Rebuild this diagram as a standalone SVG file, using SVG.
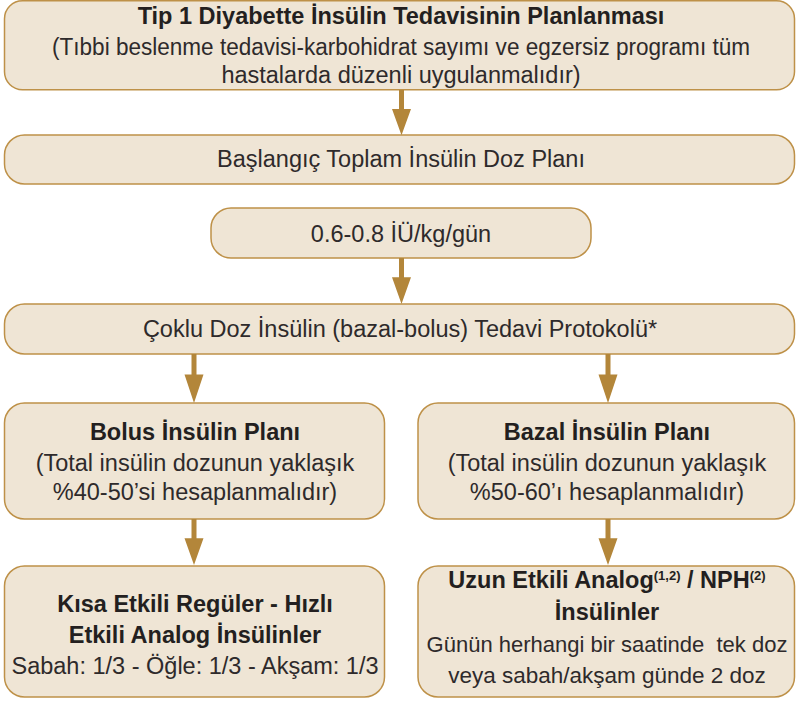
<svg xmlns="http://www.w3.org/2000/svg" width="796" height="703" viewBox="0 0 796 703">
  <style>
    .box { fill: #EFE5D5; stroke: #BE9148; stroke-width: 1.5; }
    text { font-family: "Liberation Sans", Arial, sans-serif; fill: #2E2A2B; text-anchor: middle; font-size: 23.5px; }
    .b { font-weight: bold; fill: #231F20; }
    .sup { font-size: 13px; font-weight: bold; }
    .pre { white-space: pre; }
    .s22 { font-size: 22px; }
    .s225 { font-size: 22.5px; }
    .arrow { fill: #B3863A; }
  </style>
  <defs>
    <path id="arw" d="M-2.5,0 H2.5 V18 H9.5 L0,43 L-9.5,18 H-2.5 Z"/>
  </defs>

  <g id="n-plan">
    <rect class="box" x="4.5" y="0.75" width="790" height="89" rx="18"/>
    <text class="b" x="401" y="24">Tip 1 Diyabette İnsülin Tedavisinin Planlanması</text>
    <text x="401" y="55" textLength="698" lengthAdjust="spacingAndGlyphs">(Tıbbi beslenme tedavisi-karbohidrat sayımı ve egzersiz programı tüm</text>
    <text x="401" y="83">hastalarda düzenli uygulanmalıdır)</text>
  </g>

  <g id="n-baslangic">
    <rect class="box" x="4.5" y="135" width="790" height="49" rx="20"/>
    <text x="401" y="167">Başlangıç Toplam İnsülin Doz Planı</text>
  </g>

  <g id="n-doz">
    <rect class="box" x="211" y="208" width="380" height="50" rx="20"/>
    <text x="401" y="242">0.6-0.8 İÜ/kg/gün</text>
  </g>

  <g id="n-protokol">
    <rect class="box" x="4.5" y="304" width="790" height="50" rx="20"/>
    <text x="400" y="337">Çoklu Doz İnsülin (bazal-bolus) Tedavi Protokolü*</text>
  </g>

  <g id="n-bolus">
    <rect class="box" x="4.5" y="403" width="380" height="116" rx="20"/>
    <text class="b" x="195" y="440">Bolus İnsülin Planı</text>
    <text x="195" y="471">(Total insülin dozunun yaklaşık</text>
    <text x="195" y="500">%40-50’si hesaplanmalıdır)</text>
  </g>

  <g id="n-bazal">
    <rect class="box" x="418" y="403" width="376.5" height="116" rx="20"/>
    <text class="b" x="607" y="440">Bazal İnsülin Planı</text>
    <text x="607" y="471">(Total insülin dozunun yaklaşık</text>
    <text x="607" y="500">%50-60’ı hesaplanmalıdır)</text>
  </g>

  <g id="n-kisa">
    <rect class="box" x="4.5" y="566" width="380" height="131" rx="20"/>
    <text class="b" x="195" y="612">Kısa Etkili Regüler - Hızlı</text>
    <text class="b" x="195" y="643">Etkili Analog İnsülinler</text>
    <text x="195" y="674">Sabah: 1/3 - Öğle: 1/3 - Akşam: 1/3</text>
  </g>

  <g id="n-uzun">
    <rect class="box" x="418" y="566" width="376.5" height="131" rx="20"/>
    <text class="b" x="607" y="588">Uzun Etkili Analog<tspan class="sup" dy="-8">(1,2)</tspan><tspan dy="8"> / NPH</tspan><tspan class="sup" dy="-8">(2)</tspan></text>
    <text class="b" x="607" y="620">İnsülinler</text>
    <text class="pre s22" x="607" y="652">Günün herhangi bir saatinde  tek doz</text>
    <text class="s225" x="607" y="683">veya sabah/akşam günde 2 doz</text>
  </g>

  <g id="connectors" class="arrow">
    <use href="#arw" transform="translate(401.5,90) scale(1,1.05)"/>
    <use href="#arw" transform="translate(401.5,258) scale(1,1.07)"/>
    <use href="#arw" transform="translate(194,354) scale(1,1.14)"/>
    <use href="#arw" transform="translate(608,354) scale(1,1.14)"/>
    <use href="#arw" transform="translate(194,519) scale(1,1.07)"/>
    <use href="#arw" transform="translate(608,519) scale(1,1.07)"/>
  </g>
</svg>
